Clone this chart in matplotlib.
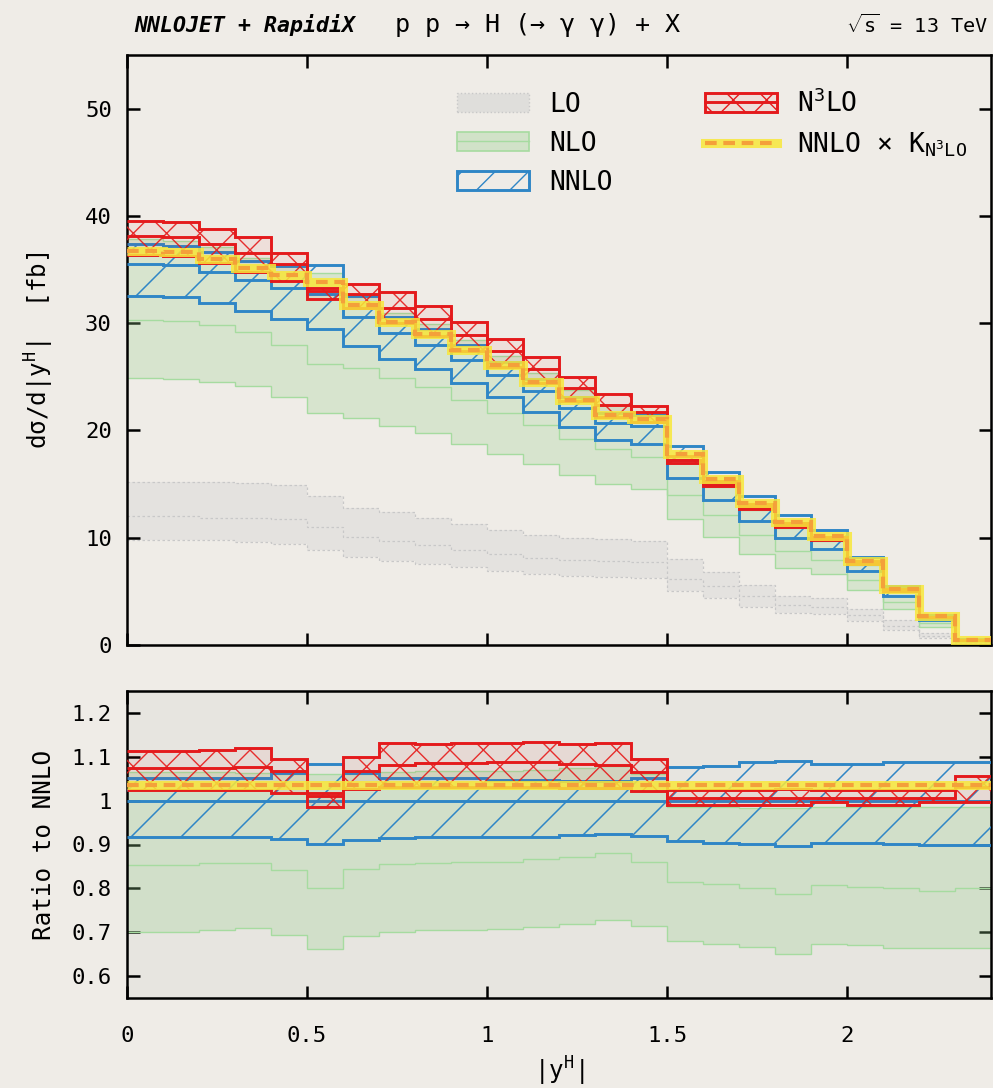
import matplotlib
matplotlib.use('Agg')
import matplotlib.pyplot as plt
import numpy as np
from matplotlib.patches import Patch
from matplotlib.lines import Line2D
from matplotlib.collections import LineCollection
from matplotlib.legend_handler import HandlerTuple
from matplotlib.ticker import FormatStrFormatter

# ---- data ----
edges = np.linspace(0.0, 2.4, 25)   # |y^H| bins of width 0.1

# NNLO central value [fb]
nnlo = np.array([35.5, 35.4, 34.8, 34.0, 33.3, 32.7, 30.6, 29.1, 28.0, 26.6, 25.2, 23.7,
                 22.1, 20.7, 20.4, 17.2, 14.95, 12.8, 11.1, 9.85, 7.6, 5.05, 2.59, 0.48])

# ratios to NNLO central (bottom panel)
nnlo_hi_r = np.array([1.052, 1.052, 1.052, 1.052, 1.062, 1.084, 1.062, 1.052, 1.052, 1.052, 1.046, 1.046,
                      1.044, 1.044, 1.052, 1.077, 1.080, 1.087, 1.091, 1.084, 1.084, 1.087, 1.089, 1.089])
nnlo_lo_r = np.array([0.917, 0.917, 0.917, 0.917, 0.913, 0.902, 0.911, 0.915, 0.918, 0.918, 0.918, 0.918,
                      0.921, 0.924, 0.919, 0.907, 0.904, 0.902, 0.897, 0.904, 0.904, 0.901, 0.900, 0.900])

nlo_r = np.array([0.854, 0.854, 0.857, 0.857, 0.841, 0.800, 0.845, 0.855, 0.858, 0.860, 0.860, 0.866,
                  0.871, 0.881, 0.860, 0.814, 0.810, 0.800, 0.788, 0.807, 0.803, 0.800, 0.795, 0.800])
nlo_hi_r = np.array([1.065, 1.065, 1.065, 1.062, 1.060, 1.060, 1.060, 1.065, 1.068, 1.068, 1.068, 1.070,
                     1.075, 1.080, 1.060, 0.985, 0.985, 0.983, 0.983, 0.985, 0.985, 0.985, 0.985, 0.985])
nlo_lo_r = np.array([0.700, 0.700, 0.705, 0.709, 0.694, 0.662, 0.691, 0.700, 0.705, 0.705, 0.708, 0.712,
                     0.719, 0.727, 0.714, 0.681, 0.674, 0.666, 0.650, 0.674, 0.670, 0.665, 0.664, 0.665])

n3lo_r = np.array([1.075, 1.075, 1.075, 1.076, 1.067, 1.010, 1.068, 1.081, 1.085, 1.086, 1.087, 1.087,
                   1.084, 1.081, 1.065, 1.005, 1.005, 1.006, 1.006, 1.006, 1.006, 1.006, 1.006, 1.030])
n3lo_hi_r = np.array([1.113, 1.113, 1.115, 1.120, 1.096, 1.018, 1.100, 1.132, 1.130, 1.132, 1.132, 1.133,
                      1.130, 1.132, 1.094, 1.024, 1.024, 1.025, 1.026, 1.025, 1.025, 1.025, 1.025, 1.056])
n3lo_lo_r = np.array([1.024, 1.024, 1.024, 1.024, 1.018, 0.986, 1.027, 1.030, 1.030, 1.030, 1.030, 1.030,
                      1.028, 1.028, 1.021, 0.989, 0.990, 0.990, 0.990, 0.997, 0.990, 0.990, 0.997, 0.998])

k_n3lo = 1.035

# LO [fb]
lo = np.array([12.0, 12.0, 11.85, 11.85, 11.7, 11.0, 10.05, 9.73, 9.33, 8.9, 8.5, 8.1,
               7.9, 7.8, 7.7, 6.15, 5.5, 4.6, 3.7, 3.55, 2.8, 1.8, 0.87, 0.25])
lo_hi = np.array([15.2, 15.2, 15.2, 15.1, 14.9, 13.9, 12.8, 12.4, 11.8, 11.3, 10.75, 10.3,
                  10.0, 9.9, 9.7, 8.0, 6.8, 5.6, 4.6, 4.4, 3.4, 2.3, 1.1, 0.35])
lo_lo = np.array([9.82, 9.82, 9.75, 9.58, 9.42, 8.9, 8.18, 7.87, 7.56, 7.25, 6.93, 6.62,
                  6.4, 6.3, 6.2, 5.07, 4.35, 3.5, 2.95, 2.85, 2.27, 1.43, 0.62, 0.15])

# ---- style ----
BG = '#efece7'
BG2 = '#e7e5e0'
BLUE = '#2f86c6'
RED = '#e41a1c'
GREEN = '#a6dba0'
GREY = '#c8c8c8'
YELLOW = '#f8e83a'
ORANGE = '#f4a03a'

plt.rcParams['font.family'] = ['DejaVu Sans Mono', 'DejaVu Sans']
plt.rcParams['mathtext.fontset'] = 'custom'
plt.rcParams['mathtext.rm'] = 'DejaVu Sans Mono'
plt.rcParams['mathtext.it'] = 'DejaVu Sans Mono:italic'
plt.rcParams['mathtext.bf'] = 'DejaVu Sans Mono:bold'
plt.rcParams['hatch.linewidth'] = 1.0

fig = plt.figure(figsize=(9.93, 10.88), dpi=100, facecolor=BG)
ax1 = fig.add_axes([127 / 993, 1 - 645 / 1088, 864 / 993, 590 / 1088], facecolor=BG)
ax2 = fig.add_axes([127 / 993, 1 - 998 / 1088, 864 / 993, 307 / 1088], facecolor=BG2)


def diag_hatch(ax, patch, spacing_px, color, lw):
    bb = ax.get_window_extent()
    W, H = bb.width, bb.height
    dx = H / W
    starts = np.arange(-dx, 1 + spacing_px / W, spacing_px / W)
    segs = [[(s, 0), (s + dx, 1)] for s in starts]
    lc = LineCollection(segs, colors=color, linewidths=lw, transform=ax.transAxes, zorder=patch.get_zorder())
    lc.set_clip_path(patch)
    ax.add_collection(lc, autolim=False)


def draw(ax, scale, ratio_panel):
    # LO
    if not ratio_panel:
        ax.stairs(lo_hi, edges, baseline=lo_lo, fill=True, facecolor=(0.82, 0.82, 0.82, 0.35),
                  edgecolor='none', lw=0, zorder=1)
        for arr in (lo_lo, lo, lo_hi):
            ax.stairs(arr, edges, baseline=None, color=GREY, lw=0.9, ls=(0, (2, 2)), zorder=1)
    # NLO
    ax.stairs(nlo_hi_r * scale, edges, baseline=nlo_lo_r * scale, fill=True,
              facecolor=(0.60, 0.82, 0.56, 0.28), edgecolor='none', lw=0, zorder=2)
    for arr in (nlo_lo_r, nlo_r, nlo_hi_r):
        ax.stairs(arr * scale, edges, baseline=None, color=GREEN, lw=1.0, zorder=2)
    # NNLO
    p = ax.stairs(nnlo_hi_r * scale, edges, baseline=nnlo_lo_r * scale, fill=True,
                  facecolor='none', edgecolor='none', lw=0, zorder=3)
    diag_hatch(ax, p, 50, BLUE, 1.1)
    for arr in (nnlo_lo_r, np.ones_like(nnlo), nnlo_hi_r):
        ax.stairs(arr * scale, edges, baseline=None, color=BLUE, lw=2.1, zorder=3)
    # N3LO
    ax.stairs(n3lo_hi_r * scale, edges, baseline=n3lo_lo_r * scale, fill=True,
              facecolor=(0.9, 0.1, 0.1, 0.06), edgecolor=(0.9, 0.1, 0.1, 0.9), hatch='x', lw=0, zorder=4)
    for arr in (n3lo_lo_r, n3lo_r, n3lo_hi_r):
        ax.stairs(arr * scale, edges, baseline=None, color=RED, lw=2.1, zorder=4)
    # NNLO x K
    kk = np.full_like(nnlo, k_n3lo) * scale
    ax.stairs(kk, edges, baseline=None, color=YELLOW, lw=6.5, alpha=0.85, zorder=5)
    ax.stairs(kk, edges, baseline=None, color=ORANGE, lw=3, ls=(0, (2.8, 1.6)), zorder=6)


draw(ax1, nnlo, False)
draw(ax2, np.ones_like(nnlo), True)

for ax in (ax1, ax2):
    ax.set_xlim(0, 2.4)
    ax.set_xticks([0, 0.5, 1, 1.5, 2])
    ax.tick_params(direction='in', length=9, width=1.8, top=True, right=True, labelsize=16, pad=11)
    for s in ax.spines.values():
        s.set_linewidth(1.8)
ax2.tick_params(axis='x', pad=20)

ax1.set_ylim(0, 55)
ax1.set_yticks([0, 10, 20, 30, 40, 50])
ax1.tick_params(labelbottom=False)
ax2.set_ylim(0.55, 1.25)
ax2.set_yticks([0.6, 0.7, 0.8, 0.9, 1.0, 1.1, 1.2])
ax2.yaxis.set_major_formatter(FormatStrFormatter('%g'))
ax2.xaxis.set_major_formatter(FormatStrFormatter('%g'))

ax1.set_ylabel('dσ/d|y$^{\\mathrm{H}}$|  [fb]', fontsize=17.5)
ax1.yaxis.set_label_coords(-0.082, 0.5)
ax2.set_ylabel('Ratio to NNLO', fontsize=17.5)
ax2.yaxis.set_label_coords(-0.082, 0.5)
ax2.set_xlabel('|y$^{\\mathrm{H}}$|', fontsize=17.5)
ax2.xaxis.set_label_coords(0.5, -0.185)

# legend
h_lo = Patch(facecolor=(0.82, 0.82, 0.82, 0.5), edgecolor=GREY, ls=':', lw=1)
h_nlo = (Patch(facecolor=(0.60, 0.82, 0.56, 0.35), edgecolor=GREEN, lw=1.2),
         Line2D([], [], color=GREEN, lw=1.0))
h_nnlo = Patch(facecolor='none', edgecolor=BLUE, hatch='/', lw=2.1)
h_n3lo = (Patch(facecolor=(0.9, 0.1, 0.1, 0.06), edgecolor=RED, hatch='x', lw=2.1),
          Line2D([], [], color=RED, lw=2.1))
h_k = (Line2D([], [], color=YELLOW, lw=6.5, alpha=0.85),
       Line2D([], [], color=ORANGE, lw=3, ls=(0, (2.8, 1.6))))
ax1.legend([h_lo, h_nlo, h_nnlo, h_n3lo, h_k],
           ['LO', 'NLO', 'NNLO', 'N$^3$LO', 'NNLO × K$_{\\mathrm{N^3LO}}$'],
           ncol=2, loc='upper left', bbox_to_anchor=(457 / 993, 1 - 89 / 1088),
           bbox_transform=fig.transFigure, frameon=False, fontsize=19,
           handlelength=2.73, handleheight=0.7, handletextpad=0.76, labelspacing=0.5,
           columnspacing=3.5, borderpad=0, borderaxespad=0,
           handler_map={tuple: HandlerTuple(ndivide=1)})

# header
ty = 1 - 25 / 1088
fig.text(134 / 993, ty, 'NNLOJET + RapidiX', fontsize=15.5, fontweight='bold', fontstyle='italic', va='center')
fig.text(395 / 993, ty, 'p p → H (→ γ γ) + X', fontsize=18, va='center')
fig.text(988 / 993, ty, '$\\sqrt{\\mathrm{s}}$ = 13 TeV', fontsize=14.5, va='center', ha='right')

fig.savefig('out.png', dpi=100, facecolor=BG)
